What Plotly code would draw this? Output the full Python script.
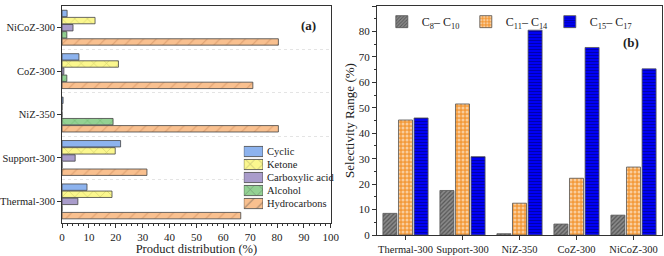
import plotly.graph_objects as go

# ---------------- Panel (a) data ----------------
cat_a = ["Thermal-300", "Support-300", "NiZ-350", "CoZ-300", "NiCoZ-300"]
cyclic = [9.3, 21.8, 0.4, 6.3, 1.9]
ketone = [18.6, 19.8, 0.0, 21.0, 12.3]
carboxylic = [5.9, 4.9, 0.0, 0.7, 4.1]
alcohol = [0.0, 0.0, 19.0, 1.8, 1.8]
hydrocarbons = [66.5, 31.6, 80.5, 71.0, 80.5]
xticks_a = [0, 10, 20, 30, 40, 50, 60, 70, 80, 90, 100]

# ---------------- Panel (b) data ----------------
cat_b = ["Thermal-300", "Support-300", "NiZ-350", "CoZ-300", "NiCoZ-300"]
c8_c10 = [8.5, 17.5, 0.5, 4.3, 7.8]
c11_c14 = [45.2, 51.5, 12.5, 22.3, 26.7]
c15_c17 = [46.0, 30.8, 80.5, 73.7, 65.3]
yticks_b = [0, 10, 20, 30, 40, 50, 60, 70, 80, 90]

FONT = "Liberation Serif"
LINE = "#444444"

fig = go.Figure()
ypos = list(range(len(cat_a)))

# name, values, colour, pattern shape, pattern colour
series_a = [
    ("Hydrocarbons", hydrocarbons, "#F9C08F", "/", "#C08050"),
    ("Alcohol", alcohol, "#93D193", "x", "#4E9A4E"),
    ("Carboxylic acid", carboxylic, "#A99CCB", "", "#A99CCB"),
    ("Ketone", ketone, "#FBF78E", "x", "#A0A040"),
    ("Cyclic", cyclic, "#8DB3EE", "", "#8DB3EE"),
]
for name, vals, col, shp, fg in series_a:
    fig.add_trace(go.Bar(
        y=ypos, x=vals, name=name, orientation="h",
        marker=dict(color=col, line=dict(color=LINE, width=0.8),
                    pattern=dict(shape=shp, fgcolor=fg, bgcolor=col, size=9, solidity=0.12)),
        xaxis="x", yaxis="y", showlegend=False,
    ))

# compact legend key for panel (a), drawn on its own small axis pair
leg_names = [s[0] for s in series_a]
fig.add_trace(go.Bar(
    y=leg_names, x=[1] * len(leg_names), orientation="h",
    marker=dict(color=[s[2] for s in series_a], line=dict(color=LINE, width=0.8),
                pattern=dict(shape=[s[3] for s in series_a], fgcolor=[s[4] for s in series_a],
                             bgcolor=[s[2] for s in series_a], size=9, solidity=0.12)),
    xaxis="x3", yaxis="y3", showlegend=False, hoverinfo="skip", width=0.78,
))

series_b = [
    ("C<sub>8</sub>– C<sub>10</sub>", c8_c10, "#6E6E6E",
     dict(shape="/", fgcolor="#222222", bgcolor="#8A8A8A", size=3, solidity=0.4)),
    ("C<sub>11</sub>– C<sub>14</sub>", c11_c14, "#F39A3A",
     dict(shape=".", fgcolor="#FFFFFF", bgcolor="#F39A3A", size=4, solidity=0.45)),
    ("C<sub>15</sub>– C<sub>17</sub>", c15_c17, "#0000F0",
     dict(shape="-", fgcolor="#000033", bgcolor="#0000F5", size=3, solidity=0.25)),
]
for name, vals, col, pat in series_b:
    fig.add_trace(go.Bar(
        x=cat_b, y=vals, name=name,
        marker=dict(color=col, line=dict(color="#555555", width=0.8), pattern=pat),
        xaxis="x2", yaxis="y2", legend="legend",
    ))

axis_common = dict(
    showline=True, linecolor="#333333", linewidth=1, mirror=True,
    ticks="outside", tickcolor="#333333", ticklen=4,
    automargin=False,
)

fig.update_layout(
    width=664, height=256,
    margin=dict(l=62, r=2, t=6, b=21),
    paper_bgcolor="white", plot_bgcolor="white",
    font=dict(family=FONT, size=11, color="#222"),
    barmode="group",
    bargap=0.18, bargroupgap=0.1,
    xaxis=dict(domain=[0, 0.448], anchor="y", range=[0, 100],
               tickvals=xticks_a, showgrid=False, zeroline=False,
               tickfont=dict(family=FONT, size=11, color="#222"),
               title=dict(text="Product distribution (%)", font=dict(family=FONT, size=12.5), standoff=3),
               minor=dict(dtick=2, ticks="outside", ticklen=2, tickcolor="#333333"),
               **axis_common),
    yaxis=dict(domain=[0.052, 1], anchor="x", range=[-0.5, 4.5],
               tickvals=ypos, ticktext=cat_a, showgrid=False, zeroline=False,
               tickfont=dict(family=FONT, size=10.5, color="#222"),
               minor=dict(tickvals=[0.5, 1.5, 2.5, 3.5], showgrid=True,
                          gridcolor="#E4E4E4", griddash="dot", gridwidth=1, ticks=""),
               **axis_common),
    xaxis3=dict(domain=[0.303, 0.335], anchor="y3", range=[0, 1], visible=False),
    yaxis3=dict(domain=[0.109, 0.393], anchor="x3", side="right", showline=False,
                showgrid=False, zeroline=False, ticks="", ticklabelstandoff=3,
                tickfont=dict(family=FONT, size=10.5, color="#222"), automargin=False),
    xaxis2=dict(domain=[0.525, 1], anchor="y2", showgrid=False, tickangle=0,
                tickfont=dict(family=FONT, size=10.5, color="#222"),
                **axis_common),
    yaxis2=dict(domain=[0, 1], anchor="x2", range=[0, 90], tickvals=yticks_b,
                showgrid=False, zeroline=False,
                tickfont=dict(family=FONT, size=11, color="#222"),
                title=dict(text="Selectivity Range (%)", font=dict(family=FONT, size=13), standoff=1),
                minor=dict(dtick=5, ticks="outside", ticklen=2, tickcolor="#333333"),
                **axis_common),
    legend=dict(x=0.533, y=0.995, xanchor="left", yanchor="top",
                orientation="h", bgcolor="rgba(255,255,255,0)",
                font=dict(family=FONT, size=12), itemwidth=30,
                entrywidth=39),
    annotations=[
        dict(text="<b>(a)</b>", x=0.41, y=0.955, xref="paper", yref="paper",
             showarrow=False, font=dict(family=FONT, size=13)),
        dict(text="<b>(b)</b>", x=0.965, y=0.88, xref="paper", yref="paper",
             showarrow=False, font=dict(family=FONT, size=13)),
    ],
)

fig.write_html("out.html")
